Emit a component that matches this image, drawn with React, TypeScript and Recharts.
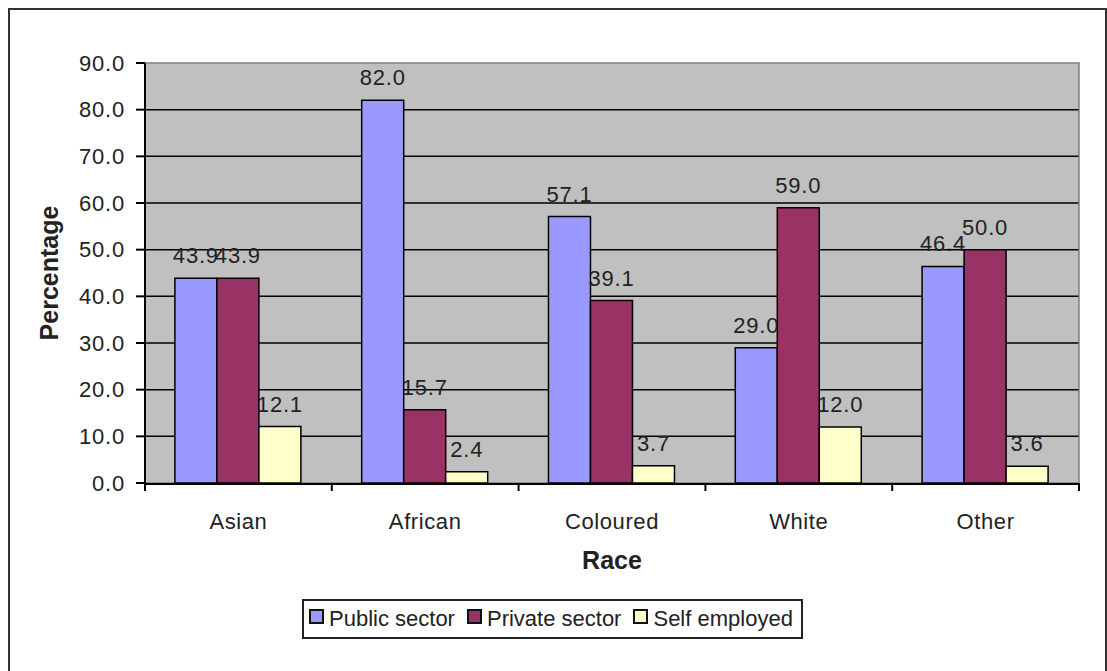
import {
  BarChart,
  Bar,
  XAxis,
  YAxis,
  CartesianGrid,
  ReferenceArea,
  LabelList,
  Legend,
} from 'recharts';

const CATEGORIES = ['Asian', 'African', 'Coloured', 'White', 'Other'];
const PUBLIC_SECTOR = [43.9, 82.0, 57.1, 29.0, 46.4];
const PRIVATE_SECTOR = [43.9, 15.7, 39.1, 59.0, 50.0];
const SELF_EMPLOYED = [12.1, 2.4, 3.7, 12.0, 3.6];
const Y_TICKS = [0, 10, 20, 30, 40, 50, 60, 70, 80, 90];
const GRID_VALUES = [10, 20, 30, 40, 50, 60, 70, 80];
const EDGE_TICKS = [0, 1, 2, 3, 4, 5];

const SERIES = [
  { key: 'public', name: 'Public sector', color: '#9999FF' },
  { key: 'private', name: 'Private sector', color: '#993366' },
  { key: 'self', name: 'Self employed', color: '#FFFFCC' },
];

// pos = centre of each category band, in band units, for the edge-tick axis
const data = CATEGORIES.map((name, i) => ({
  name,
  pos: i + 0.5,
  public: PUBLIC_SECTOR[i],
  private: PRIVATE_SECTOR[i],
  self: SELF_EMPLOYED[i],
}));

const FONT = '"Liberation Sans", Arial, sans-serif';
const TEXT = '#222';

// axis ids: 0 = band edges (tick marks only), 1 = categories
const EDGE_AXIS = 0;
const CAT_AXIS = 1;

function CategoryTick({ x, y, payload }: any) {
  return (
    <text
      x={x}
      y={y + 45}
      textAnchor="middle"
      fill={TEXT}
      fontSize={22}
      fontFamily={FONT}
      letterSpacing={0.6}
    >
      {payload.value}
    </text>
  );
}

function EmptyTick() {
  return <g />;
}

function PercentLabel({ viewBox }: any) {
  const cx = viewBox.x + 39;
  const cy = viewBox.y + viewBox.height / 2;
  return (
    <text
      x={cx}
      y={cy}
      transform={`rotate(-90, ${cx}, ${cy})`}
      textAnchor="middle"
      dominantBaseline="central"
      fill={TEXT}
      fontSize={25}
      fontWeight="bold"
      fontFamily={FONT}
    >
      Percentage
    </text>
  );
}

function LegendBox() {
  return (
    <div
      style={{
        display: 'inline-flex',
        alignItems: 'center',
        boxSizing: 'border-box',
        height: 40,
        border: '2px solid #222',
        padding: '0 8px 0 5px',
        background: '#fff',
        fontFamily: FONT,
        fontSize: 22,
        color: TEXT,
        whiteSpace: 'nowrap',
      }}
    >
      {SERIES.map((s, i) => (
        <span key={s.key} style={{ display: 'inline-flex', alignItems: 'center' }}>
          <span
            style={{
              display: 'inline-block',
              width: 15,
              height: 15,
              boxSizing: 'border-box',
              border: '2px solid #111',
              background: s.color,
              marginLeft: i === 0 ? 0 : 12,
              marginRight: 5,
              position: 'relative',
              top: -3,
            }}
          />
          {s.name}
        </span>
      ))}
    </div>
  );
}

export default function App() {
  return (
    <div
      style={{
        position: 'absolute',
        top: 8,
        left: 8,
        width: 1099,
        height: 663,
        boxSizing: 'border-box',
        border: '2px solid #333',
        borderBottom: 'none',
        background: '#fff',
      }}
    >
      <BarChart
        width={1095}
        height={661}
        data={data}
        margin={{ top: 53, right: 26, left: 0, bottom: 97 }}
        barCategoryGap="16%"
        barGap={0}
      >
        <CartesianGrid
          xAxisId={CAT_AXIS}
          vertical={false}
          fill="#C0C0C0"
          stroke="#000"
          strokeWidth={1.5}
          horizontalValues={GRID_VALUES}
        />
        <ReferenceArea
          xAxisId={EDGE_AXIS}
          x1={0}
          x2={5}
          y1={0}
          y2={90}
          fill="none"
          fillOpacity={0}
          stroke="#808080"
          strokeWidth={1.5}
        />
        <XAxis
          xAxisId={EDGE_AXIS}
          dataKey="pos"
          type="number"
          domain={[0, 5]}
          allowDataOverflow
          ticks={EDGE_TICKS}
          interval={0}
          tick={EmptyTick}
          tickSize={8}
          tickLine={{ stroke: '#000', strokeWidth: 2 }}
          axisLine={false}
          height={1}
        />
        <XAxis
          xAxisId={CAT_AXIS}
          dataKey="name"
          tickLine={false}
          tickSize={0}
          tickMargin={0}
          axisLine={{ stroke: '#000', strokeWidth: 2 }}
          tick={<CategoryTick />}
          height={90}
          label={{
            value: 'Race',
            position: 'insideBottom',
            offset: 5,
            fill: TEXT,
            fontSize: 25,
            fontWeight: 'bold',
            fontFamily: FONT,
          }}
        />
        <YAxis
          width={135}
          domain={[0, 90]}
          ticks={Y_TICKS}
          interval={0}
          tickFormatter={(v: number) => v.toFixed(1)}
          tick={{ fill: TEXT, fontSize: 22, fontFamily: FONT, letterSpacing: 0.8 }}
          tickSize={9}
          tickMargin={11}
          tickLine={{ stroke: '#000', strokeWidth: 2 }}
          axisLine={{ stroke: '#000', strokeWidth: 2 }}
          label={<PercentLabel />}
        />
        <Legend
          layout="horizontal"
          verticalAlign="middle"
          align="center"
          content={<LegendBox />}
          wrapperStyle={{ top: 589, left: 292, width: 'auto', height: 'auto' }}
        />
        {SERIES.map((s) => (
          <Bar
            key={s.key}
            xAxisId={CAT_AXIS}
            dataKey={s.key}
            name={s.name}
            fill={s.color}
            stroke="#000"
            strokeWidth={1.5}
            isAnimationActive={false}
          >
            <LabelList
              dataKey={s.key}
              position="top"
              offset={15}
              formatter={(v: number) => v.toFixed(1)}
              fill={TEXT}
              fontSize={22}
              fontFamily={FONT}
              letterSpacing={0.8}
            />
          </Bar>
        ))}
      </BarChart>
    </div>
  );
}
